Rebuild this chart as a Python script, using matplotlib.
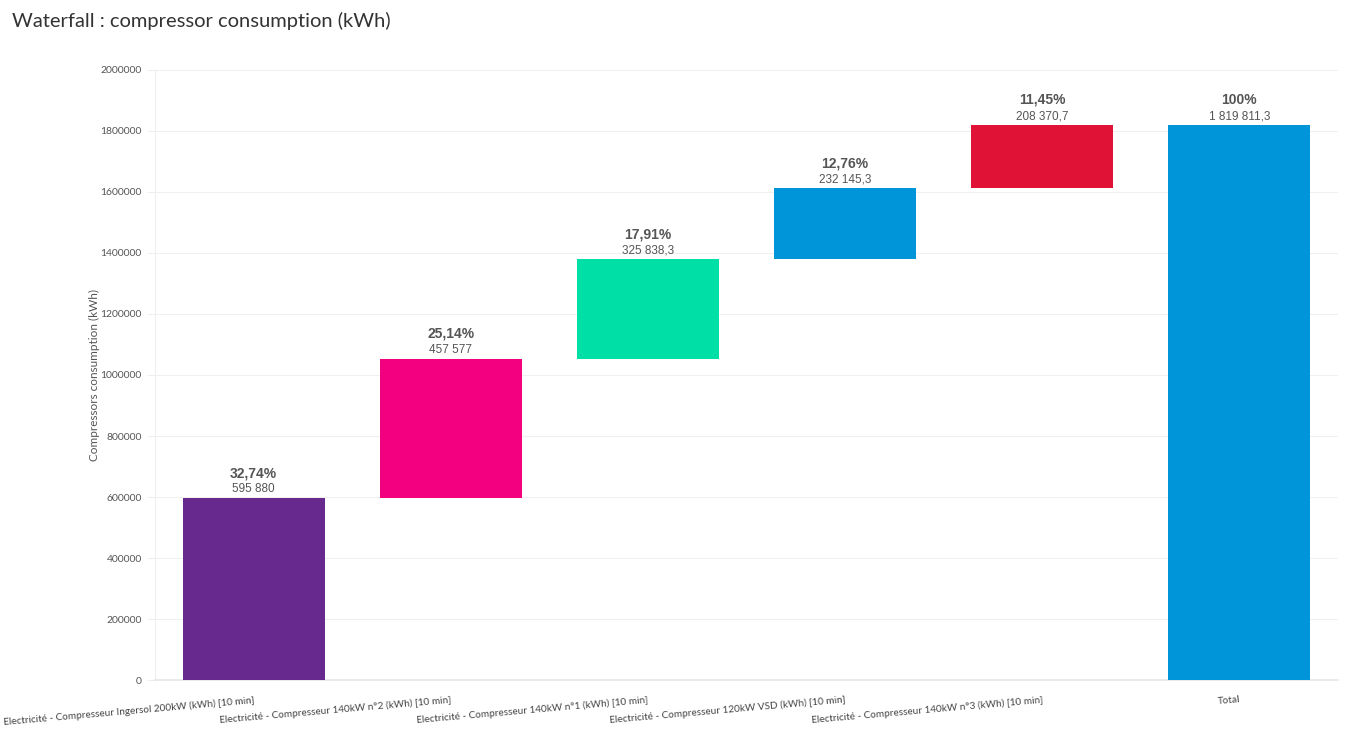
import matplotlib.pyplot as plt
from matplotlib.ticker import FuncFormatter

# données du waterfall
categories = [
    'Electricité - Compresseur Ingersol 200kW (kWh) [10 min]',
    'Electricité - Compresseur 140kW n°2 (kWh) [10 min]',
    'Electricité - Compresseur 140kW n°1 (kWh) [10 min]',
    'Electricité - Compresseur 120kW VSD (kWh) [10 min]',
    'Electricité - Compresseur 140kW n°3 (kWh) [10 min]',
    'Total',
]
values = [595880, 457577, 325838.3, 232145.3, 208370.7]
colors = ['#68298f', '#f2007f', '#00e0a6', '#0094d9', '#e01236', '#0094d9']

plt.rcParams['font.family'] = ['Lato', 'DejaVu Sans']

total = sum(values)
bottoms = []
acc = 0
for v in values:
    bottoms.append(acc)
    acc += v
heights = values + [total]
bottoms = bottoms + [0]


def fmt_num(v):
    # espace des milliers, virgule décimale
    if abs(v - round(v)) < 1e-6:
        s = f'{int(round(v)):,}'.replace(',', ' ')
    else:
        s = f'{v:,.1f}'.replace(',', ' ').replace('.', ',')
    return s


def fmt_pct(v):
    p = v / total * 100
    if abs(p - 100) < 1e-6:
        return '100%'
    return f'{p:.2f}%'.replace('.', ',')


fig = plt.figure(figsize=(13.45, 7.35), dpi=100)
ax = fig.add_axes([0.1152, 0.0748, 0.8796, 0.83])

x = list(range(len(categories)))
ax.bar(x, heights, bottom=bottoms, width=0.72, color=colors, zorder=3)

for i, (b, h) in enumerate(zip(bottoms, heights)):
    top = b + h
    ax.annotate(fmt_num(h), (i, top), xytext=(0, 2), textcoords='offset points',
                ha='center', va='bottom', fontsize=8.5, color='#555555',
                family=['Liberation Sans', 'DejaVu Sans'])
    ax.annotate(fmt_pct(h), (i, top), xytext=(0, 13), textcoords='offset points',
                ha='center', va='bottom', fontsize=10, fontweight='bold', color='#555555',
                family=['Liberation Sans', 'DejaVu Sans'])

ax.set_xlim(-0.5, len(categories) - 0.5)
ax.set_ylim(0, 2000000)
ax.set_yticks(range(0, 2000001, 200000))
ax.yaxis.set_major_formatter(FuncFormatter(lambda v, p: f'{int(v)}'))
ax.tick_params(axis='y', labelsize=7.5, colors='#555555', length=6, width=0.8)
ax.tick_params(axis='y', color='#eeeeee')
ax.tick_params(axis='x', length=0, pad=11)

ax.set_xticks(x)
ax.set_xticklabels(categories, rotation=5, ha='right', rotation_mode='anchor',
                   fontsize=7.2, color='#444444')

ax.grid(axis='y', color='#f0f0f0', linewidth=0.8, zorder=0)
for side in ['top', 'right']:
    ax.spines[side].set_visible(False)
ax.spines['left'].set_color('#eeeeee')
ax.spines['bottom'].set_color('#e6e6e6')
ax.spines['bottom'].set_linewidth(1.2)

ax.set_ylabel('Compressors consumption (kWh)', fontsize=8.5, color='#555555', labelpad=0)

fig.text(0.009, 0.972, 'Waterfall : compressor consumption (kWh)', fontsize=14.5,
         color='#333333', ha='left', va='center')

fig.savefig('out.png', dpi=100)
